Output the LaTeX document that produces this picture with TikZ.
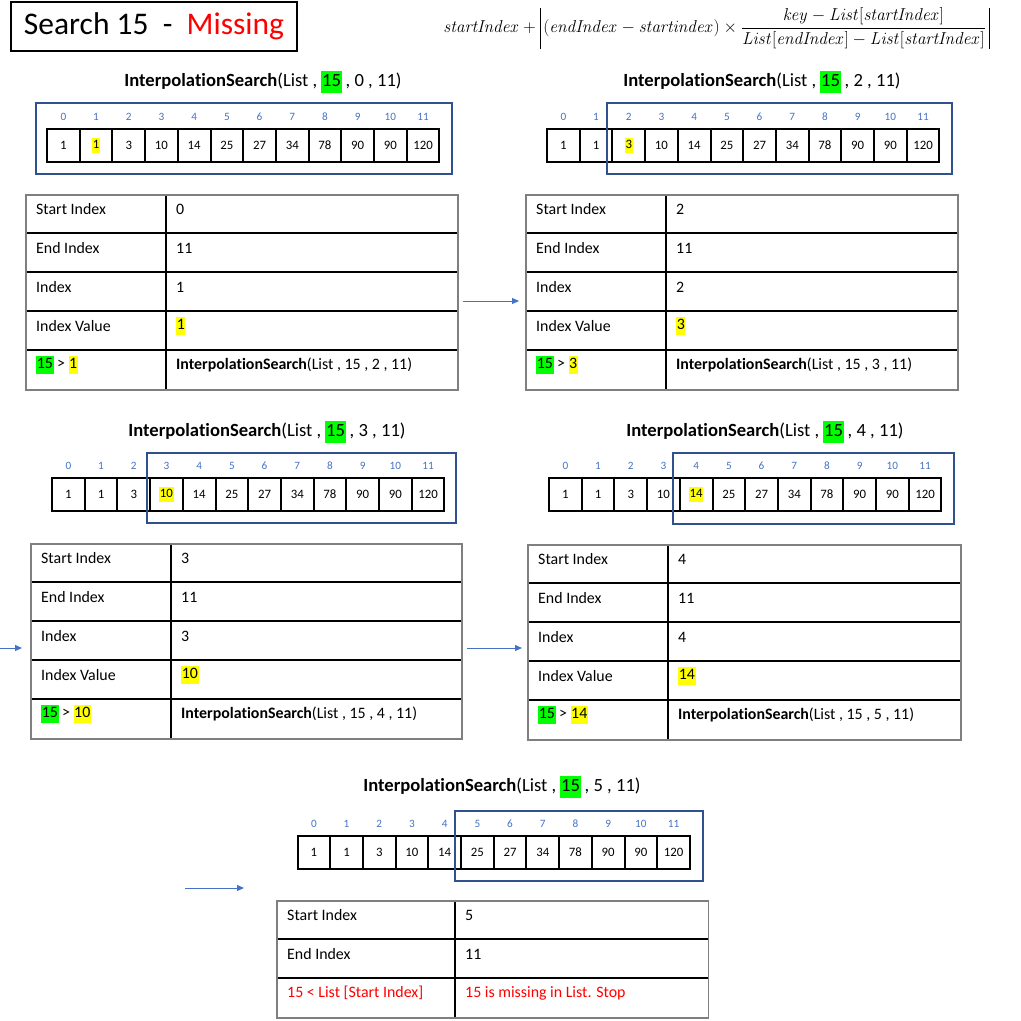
\documentclass[tikz,border=0pt]{standalone}
\usepackage[no-math]{fontspec}
\setmainfont{Carlito}[Ligatures=CommonOff]
\usepackage{amsmath}
\usepackage{tikz}
\usetikzlibrary{calc, arrows.meta}

\definecolor{idxblue}{HTML}{4472C4}
\definecolor{boxblue}{HTML}{2F528F}
\definecolor{hlgreen}{HTML}{00FF00}
\definecolor{hlyellow}{HTML}{FFFF00}
\definecolor{tabgray}{HTML}{7F7F7F}

\newcommand{\hly}[1]{{\setlength{\fboxsep}{0.6pt}\colorbox{hlyellow}{\strut#1}}}
\newcommand{\hlg}[1]{{\setlength{\fboxsep}{0.6pt}\colorbox{hlgreen}{\strut#1}}}
\newcommand{\absbar}{\rule[-16.5pt]{0.8pt}{41pt}}

\tikzset{
  cell/.style={draw, line width=2pt, minimum width=32.7pt, minimum height=33pt, inner sep=0pt, font=\fontsize{12.8}{13.5}\selectfont},
  idx/.style={text=idxblue, inner sep=0pt, font=\fontsize{11.2}{13}\selectfont},
  searchbox/.style={draw=boxblue, line width=1.8pt},
  calltitle/.style={inner sep=0pt, font=\fontsize{18.6}{20}\selectfont},
  tabframe/.style={draw=tabgray, line width=1.6pt, inner sep=0pt},
  rowline/.style={line width=1.1pt},
  tabtext/.style={anchor=west, inner sep=0pt, font=\fontsize{15.9}{16.5}\selectfont},
  flow/.style={draw=idxblue, line width=1pt, -{Triangle[length=7pt,width=6pt]}},
}

% one row of list cells with the indexes above
\newcommand{\listrow}[4]{%
  \foreach \v [count=\k from 0] in {1,1,3,10,14,25,27,34,78,90,90,120}{
    \node[cell] (#1-c\k) at ({#2+32.7*\k+16.35},{#3+16.5}) {\ifnum\k=#4 \hly{\v}\else\v\fi};
    \node[idx] (#1-i\k) at ({#2+32.7*\k+16.35},{#3-12}) {\k};
  }
}

% table frame: name, left, top, right, middle, rows
\newcommand{\steptab}[6]{%
  \coordinate (#1-mid) at (#5,#3);
  \foreach \r in {2,...,#6}
    \draw[rowline] (#2,{#3+39*(\r-1)}) -- (#4,{#3+39*(\r-1)});
  \draw[rowline] (#1-mid) -- (#5,{#3+39*#6});
  \node[tabframe, anchor=north west, minimum width={#4-#2}, minimum height={39*#6}] (#1) at (#2,#3) {};
}

\newcommand{\tabrow}[4]{%
  \node[tabtext] (#1-l#2) at ($(#1.north west)+(11,{39*#2-24})$) {#3};
  \node[tabtext] (#1-r#2) at ($(#1-mid)+(10,{39*#2-24})$) {#4};
}

\begin{document}
\begin{tikzpicture}[x=1pt, y=-1pt]
\useasboundingbox (0,0) rectangle (1021,1021);

\node[draw, line width=2pt, minimum width=286pt, minimum height=49pt, font=\fontsize{31.5}{34}\selectfont] (head) at (154,26.5) {Search 15\ \ -\ \ \textcolor{red}{Missing}};
\node[inner sep=0pt, font=\fontsize{16}{18}\selectfont] (formula) at (716.5,28.5) {$\displaystyle \mathit{startIndex}+\absbar\,(\mathit{endIndex}-\mathit{startindex})\times\frac{\mathit{key}-\mathit{List}[\mathit{startIndex}]}{\mathit{List}[\mathit{endIndex}]-\mathit{List}[\mathit{startIndex}]}\,\absbar$};

% call 1
\node[calltitle] (call1) at (263,82) {\textbf{InterpolationSearch}(List , \hlg{15} , 0 , 11)};
\listrow{list1}{47}{129}{1}
\draw[searchbox] (36,103) rectangle (452,174);
\steptab{tab1}{25}{194}{457}{166}{5}
\tabrow{tab1}{1}{Start Index}{0}
\tabrow{tab1}{2}{End Index}{11}
\tabrow{tab1}{3}{Index}{1}
\tabrow{tab1}{4}{Index Value}{\hly{1}}
\tabrow{tab1}{5}{\hlg{15} > \hly{1}}{\textbf{InterpolationSearch}(List , 15 , 2 , 11)}

% call 2
\node[calltitle] (call2) at (762,82) {\textbf{InterpolationSearch}(List , \hlg{15} , 2 , 11)};
\listrow{list2}{547}{129}{2}
\draw[searchbox] (607,103) rectangle (952,174);
\steptab{tab2}{525}{194}{957}{666}{5}
\tabrow{tab2}{1}{Start Index}{2}
\tabrow{tab2}{2}{End Index}{11}
\tabrow{tab2}{3}{Index}{2}
\tabrow{tab2}{4}{Index Value}{\hly{3}}
\tabrow{tab2}{5}{\hlg{15} > \hly{3}}{\textbf{InterpolationSearch}(List , 15 , 3 , 11)}

% call 3
\node[calltitle] (call3) at (267,432) {\textbf{InterpolationSearch}(List , \hlg{15} , 3 , 11)};
\listrow{list3}{52}{478}{3}
\draw[searchbox] (147,453) rectangle (456,523);
\steptab{tab3}{30}{543}{461}{171}{5}
\tabrow{tab3}{1}{Start Index}{3}
\tabrow{tab3}{2}{End Index}{11}
\tabrow{tab3}{3}{Index}{3}
\tabrow{tab3}{4}{Index Value}{\hly{10}}
\tabrow{tab3}{5}{\hlg{15} > \hly{10}}{\textbf{InterpolationSearch}(List , 15 , 4 , 11)}

% call 4
\node[calltitle] (call4) at (765,432) {\textbf{InterpolationSearch}(List , \hlg{15} , 4 , 11)};
\listrow{list4}{549}{478}{4}
\draw[searchbox] (673,453) rectangle (954,524);
\steptab{tab4}{527}{544}{960}{668}{5}
\tabrow{tab4}{1}{Start Index}{4}
\tabrow{tab4}{2}{End Index}{11}
\tabrow{tab4}{3}{Index}{4}
\tabrow{tab4}{4}{Index Value}{\hly{14}}
\tabrow{tab4}{5}{\hlg{15} > \hly{14}}{\textbf{InterpolationSearch}(List , 15 , 5 , 11)}

% call 5
\node[calltitle] (call5) at (502,787) {\textbf{InterpolationSearch}(List , \hlg{15} , 5 , 11)};
\listrow{list5}{297.5}{836}{-1}
\draw[searchbox] (455,811) rectangle (703,881);
\steptab{tab5}{276}{900}{707.5}{455}{3}
\tabrow{tab5}{1}{Start Index}{5}
\tabrow{tab5}{2}{End Index}{11}
\tabrow{tab5}{3}{\textcolor{red}{15 < List [Start Index]}}{\textcolor{red}{15 is missing in List. Stop}}

% arrows
\coordinate (in3) at (0,648);
\coordinate (in5a) at (185,888);
\coordinate (in5b) at (244,888);
\draw[flow] ($(tab1.east|-0,301)+(4,0)$) -- ($(tab2.west|-0,301)+(-6,0)$);
\draw[flow] (in3) -- ($(tab3.west|-0,648)+(-8,0)$);
\draw[flow] ($(tab3.east|-0,648)+(4,0)$) -- ($(tab4.west|-0,648)+(-5,0)$);
\draw[flow] (in5a) -- (in5b);
\end{tikzpicture}
\end{document}
